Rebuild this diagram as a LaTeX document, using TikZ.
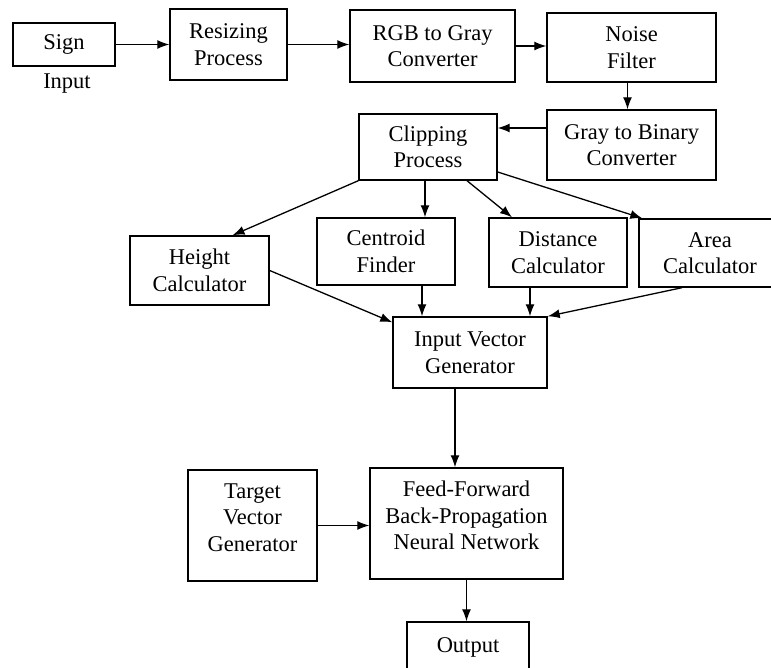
\documentclass[tikz,border=0pt]{standalone}
\usepackage{fontspec}
\setmainfont{Liberation Serif}
\usetikzlibrary{positioning}
\usetikzlibrary{arrows.meta}
\tikzset{
        blocktext/.style={align=center, inner sep=0pt, font=\fontsize{22.5}{26.5}\selectfont},
        % Process blocks
        block/.style={blocktext, rectangle, draw=black, line width=1.4pt, fill=white},
        % Tall blocks, text set high
        block_tall/.style={block, text depth=16pt},
        % Labels under blocks
        block_label/.style={blocktext}
}

\begin{document}
\begin{tikzpicture}[
            x=1pt, y=-1pt,
            ->, >={Latex[length=12pt,width=9pt]}, line width=1.3pt
        ]
            \useasboundingbox (0,0) rectangle (771,668);
            \clip (0,0) rectangle (771,668);
            % first row
            \node[block, minimum width=102pt, minimum height=43pt] (sign) at (64,44.5) {Sign};
            \node[block_label] (input) at (67,84) {Input};
            \node[block, minimum width=117pt, minimum height=71pt] (resize) at (228.5,44.5) {Resizing\\Process};
            \node[block, minimum width=165pt, minimum height=72pt] (rgb) at (432.5,46) {RGB to Gray\\Converter};
            \node[block, minimum width=169pt, minimum height=69pt] (noise) at (631.5,47.5) {Noise\\Filter};
            % second row
            \node[block, minimum width=169pt, minimum height=70pt] (binary) at (631.5,145) {Gray to Binary\\Converter};
            \node[block, minimum width=138pt, minimum height=66pt] (clip) at (428,147) {Clipping\\Process};
            % features
            \node[block, minimum width=139pt, minimum height=69pt] (height) at (199.5,270.5) {Height\\Calculator};
            \node[block, minimum width=138pt, minimum height=67pt] (centroid) at (386,251.5) {Centroid\\Finder};
            \node[block, minimum width=138pt, minimum height=69pt] (distance) at (558,252.5) {Distance\\Calculator};
            \node[block, minimum width=142pt, minimum height=68pt] (area) at (710,253) {Area\\Calculator};
            \node[block, minimum width=154pt, minimum height=71pt] (vector) at (470,352.5) {Input Vector\\Generator};
            % network
            \node[block_tall, minimum width=129pt, minimum height=111pt] (target) at (252.5,525.5) {Target\\Vector\\Generator};
            \node[block_tall, minimum width=193pt, minimum height=111pt] (network) at (466.5,523.5) {Feed-Forward\\Back-Propagation\\Neural Network};
            \node[block, minimum width=122pt, minimum height=50pt] (output) at (468,647) {Output};

            \draw (sign) -- (resize);
            \draw (resize.east) -- (resize.east -| rgb.west);
            \draw (rgb.east) -- (rgb.east -| noise.west);
            \draw ([xshift=-4pt]noise.south) -- ([xshift=-4pt]binary.north);
            \draw ([yshift=17pt]binary.west) -- ([yshift=17pt]binary.west -| clip.east);
            \draw (clip.south west) -- ([xshift=33pt]height.north);
            \draw ([xshift=-3pt]clip.south) -- ([xshift=-3pt]clip.south |- centroid.north);
            \draw ([xshift=39pt]clip.south) -- ([xshift=-46pt]distance.north);
            \draw ([yshift=-25pt]clip.east) -- ([xshift=4pt]area.north west);
            \draw (height.east) -- ([yshift=-6pt]vector.north west);
            \draw ([xshift=36pt]centroid.south) -- ([xshift=36pt]centroid.south |- vector.north);
            \draw ([xshift=-28pt]distance.south) -- ([xshift=-28pt]distance.south |- vector.north);
            \draw ([xshift=-28pt]area.south) -- (vector.north east);
            \draw ([xshift=-15pt]vector.south) -- ([xshift=-15pt]vector.south |- network.north);
            \draw (target.east) -- (target.east -| network.west);
            \draw (network.south) -- (network.south |- output.north);
        \end{tikzpicture}
\end{document}
